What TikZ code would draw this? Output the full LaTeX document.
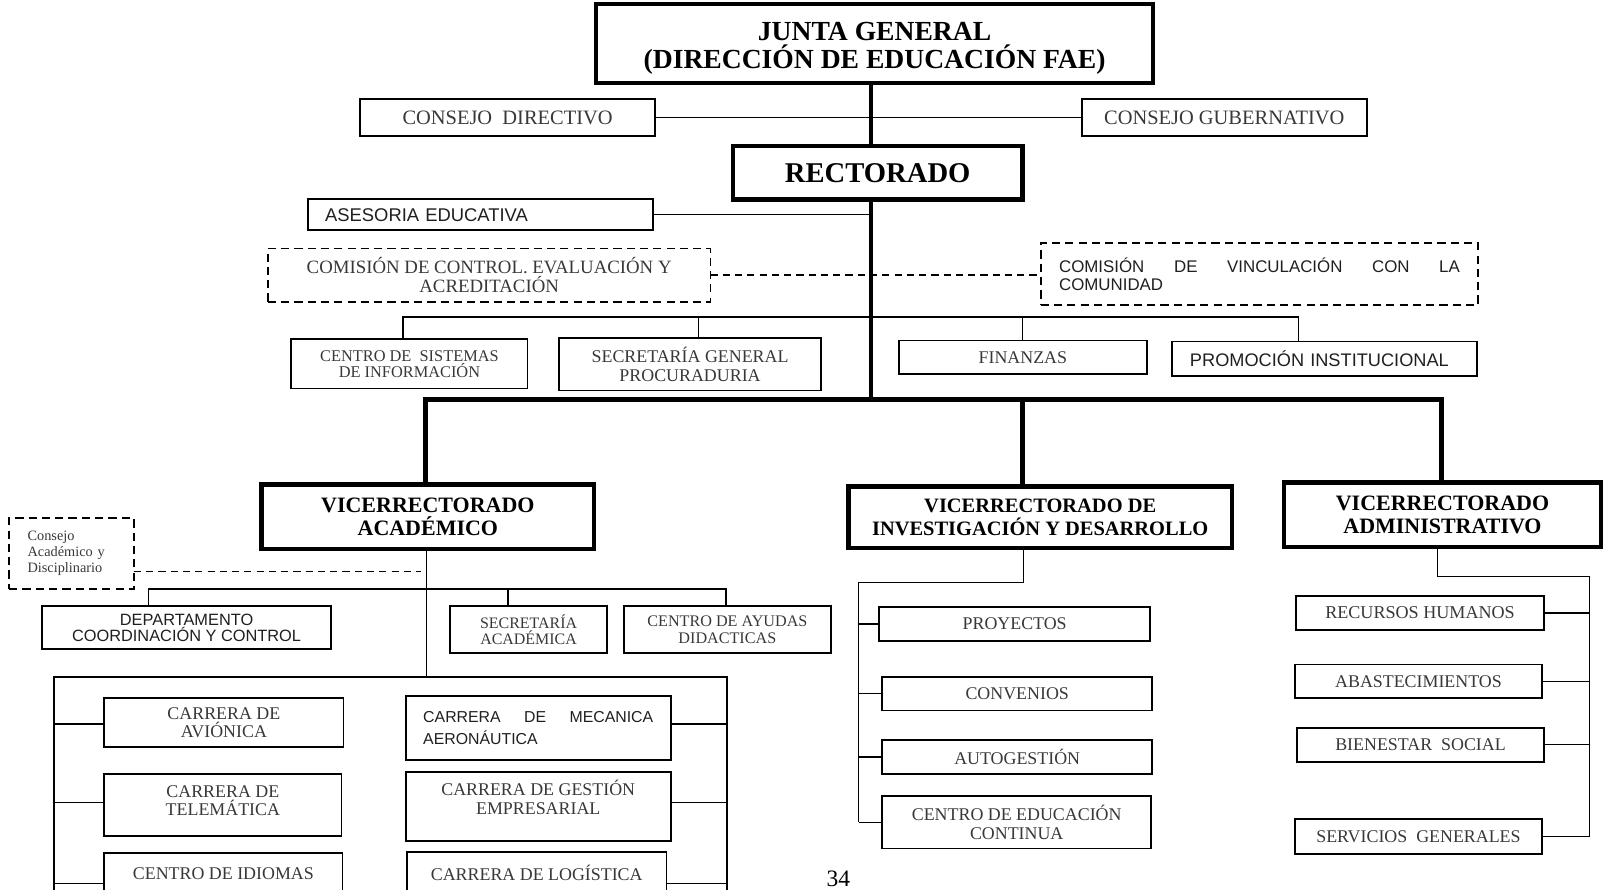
\documentclass[tikz,border=0pt]{standalone}
\usepackage{fontspec}
\setmainfont{Liberation Serif}
\setsansfont{Liberation Sans}
\newcommand\fsz[2]{\fontsize{#1}{#2}\selectfont}
\begin{document}
\begin{tikzpicture}[x=1pt,y=-1pt,
  box/.style={draw, line width=1.8pt, inner sep=0pt, outer sep=0pt, align=center, text=black!78},
  sansbox/.style={box, text=black!88},
  boldbox/.style={draw, line width=4.5pt, inner sep=0pt, outer sep=0pt, align=center},
  dashbox/.style={box, dash pattern=on 8pt off 5pt},
  link/.style={line width=1.4pt},
  trunk/.style={line width=4.5pt},
  dlink/.style={line width=1.4pt, dash pattern=on 7pt off 5pt},
]
\useasboundingbox (0,0) rectangle (1568,870);
\clip (0,0) rectangle (1568,870);

% ---- top levels
\node[boldbox, minimum width=545pt, minimum height=77pt] (junta) at (855.5,42.5) {};
\node[align=center, inner sep=0pt, font=\bfseries\fsz{27}{27}] (juntatxt) at (855.5,47.5)
  {JUNTA GENERAL\\(DIRECCIÓN DE EDUCACIÓN FAE)};
\node[box, minimum width=289pt, minimum height=36pt, font=\fsz{20}{20}] (cdir) at (496.5,115) {CONSEJO\ \ DIRECTIVO};
\node[box, minimum width=279pt, minimum height=36pt, font=\fsz{20}{20}] (cgub) at (1197.5,115) {CONSEJO GUBERNATIVO};
\node[boldbox, minimum width=283pt, minimum height=52pt, font=\bfseries\fsz{28}{28}] (rect) at (858.5,169) {RECTORADO};

\node[sansbox, text width=304pt, inner xsep=17pt, minimum height=30pt, align=left, font=\sffamily\fsz{18}{18}] (ases) at (470,210) {ASESORIA EDUCATIVA};
\node[dashbox, minimum width=433pt, minimum height=52pt, font=\fsz{18.4}{18}] (ccon) at (478.5,269)
  {COMISIÓN DE CONTROL. EVALUACIÓN Y\\ACREDITACIÓN};
\node[dashbox, text=black!88, text width=392pt, inner xsep=18pt, minimum height=60pt, align=justify, font=\sffamily\fsz{16.5}{18}] (cvin) at (1232,268)
  {COMISIÓN DE VINCULACIÓN CON LA\linebreak COMUNIDAD};

% ---- staff units under the rector
\node[box, minimum width=231pt, minimum height=48pt, font=\fsz{16}{15.5}] (cs) at (400.5,356) {CENTRO DE\ \ SISTEMAS\\DE INFORMACIÓN};
\node[box, minimum width=256pt, minimum height=51pt, font=\fsz{17.5}{18}] (sg) at (675,356.5) {SECRETARÍA GENERAL\\PROCURADURIA};
\node[box, minimum width=243pt, minimum height=33pt, font=\fsz{17.5}{18}] (fin) at (1000.5,349.5) {FINANZAS};
\node[sansbox, text width=263pt, inner xsep=18pt, minimum height=34pt, align=left, font=\sffamily\fsz{17.8}{18}] (prom) at (1295.5,351) {PROMOCIÓN INSTITUCIONAL};

% ---- vice-rectorates
\node[boldbox, minimum width=325pt, minimum height=63pt, font=\bfseries\fsz{21.5}{22}] (va) at (418.5,505.5) {VICERRECTORADO\\ACADÉMICO};
\node[boldbox, minimum width=375pt, minimum height=60pt, font=\bfseries\fsz{20}{22}] (vid) at (1017.5,506) {VICERRECTORADO DE\\INVESTIGACIÓN Y DESARROLLO};
\node[boldbox, minimum width=310pt, minimum height=63pt, font=\bfseries\fsz{21.5}{22}] (vadm) at (1411,503.5) {VICERRECTORADO\\ADMINISTRATIVO};

\node[dashbox, text width=86pt, inner xsep=18pt, minimum height=69pt, align=left, font=\fsz{14}{15.5}] (cad) at (70,541.5) {Consejo\\Académico y\\Disciplinario};

% ---- academic branch
\node[sansbox, minimum width=283pt, minimum height=42pt, font=\sffamily\fsz{16}{15.5}] (dep) at (182.5,614) {DEPARTAMENTO\\COORDINACIÓN Y CONTROL};
\node[box, minimum width=154pt, minimum height=46pt, font=\fsz{15.6}{16}] (sa) at (517,616) {SECRETARÍA\\ACADÉMICA};
\node[box, minimum width=203pt, minimum height=46pt, font=\fsz{15.8}{16}] (cay) at (711.5,616) {CENTRO DE AYUDAS\\DIDACTICAS};

\node[box, minimum width=234pt, minimum height=48pt, font=\fsz{17.5}{18}] (av) at (219,707) {CARRERA DE\\AVIÓNICA};
\node[box, minimum width=232pt, minimum height=61pt, font=\fsz{17.5}{18}] (tel) at (218,787.5) {CARRERA DE\\TELEMÁTICA\\[-9pt]\mbox{}};
\node[box, minimum width=233pt, minimum height=42pt, font=\fsz{17.5}{18}] (idi) at (218.5,855) {CENTRO DE IDIOMAS};
\node[sansbox, text width=225pt, inner xsep=17pt, minimum height=62pt, align=justify, font=\sffamily\fsz{15.5}{22}] (mec) at (526.5,712) {CARRERA DE MECANICA\linebreak AERONÁUTICA};
\node[box, minimum width=259pt, minimum height=68pt, font=\fsz{17.5}{18}] (ges) at (526.5,789) {CARRERA DE GESTIÓN\\EMPRESARIAL\\\mbox{}};
\node[box, minimum width=254pt, minimum height=42pt, font=\fsz{17.5}{18}] (log) at (525,854) {CARRERA DE LOGÍSTICA};

% ---- research branch
\node[box, minimum width=265pt, minimum height=33pt, font=\fsz{17.5}{18}] (pro) at (992.5,610.5) {PROYECTOS};
\node[box, minimum width=264pt, minimum height=33pt, font=\fsz{17.5}{18}] (conv) at (995,678.5) {CONVENIOS};
\node[box, minimum width=264pt, minimum height=33pt, font=\fsz{17.5}{18}] (auto) at (995,740.5) {AUTOGESTIÓN};
\node[box, minimum width=263pt, minimum height=51pt, font=\fsz{17.5}{18}] (ced) at (994.5,804.5) {CENTRO DE EDUCACIÓN\\CONTINUA};

% ---- administrative branch
\node[box, minimum width=242pt, minimum height=33pt, font=\fsz{17.7}{18}] (rh) at (1389,599.5) {RECURSOS HUMANOS};
\node[box, minimum width=241pt, minimum height=33pt, font=\fsz{17.5}{18}] (ab) at (1387.5,666.5) {ABASTECIMIENTOS};
\node[box, minimum width=241pt, minimum height=33pt, font=\fsz{17.5}{18}] (bs) at (1389.5,728.5) {BIENESTAR\ \ SOCIAL};
\node[box, minimum width=241pt, minimum height=34pt, font=\fsz{17.5}{18}] (sgen) at (1387.5,818) {SERVICIOS\ \ GENERALES};

\node[font=\fsz{23}{24}] (pg) at (820,860) {34};

% ---- main trunk
\coordinate (sp) at (852,0);
\coordinate (tb) at (852,391);
\coordinate (t1) at (416,391);
\coordinate (t2) at (1000,391);
\coordinate (t3) at (1410,391);
\draw[link] (cdir.east) -- (cgub.west);
\draw[link] (ases.east) -- (ases.east -| sp);
\draw[dlink] (ccon.east) -- (ccon.east -| cvin.west);
\coordinate (u1) at (394,310);
\coordinate (u2) at (683,310);
\coordinate (u3) at (1000,310);
\coordinate (u4) at (1270,310);
\draw[link] (u1 |- cs.north) -- (u1) -- (u4) -- (u4 |- prom.north);
\draw[link] (u2) -- (u2 |- sg.north);
\draw[link] (u3) -- (u3 |- fin.north);
\draw[trunk] (junta.south -| sp) -- (rect.north -| sp);
\draw[trunk] (rect.south -| sp) -- (tb);
\draw[trunk] (va.north -| t1) -- (t1) -- (t3) -- (vadm.north -| t3);
\draw[trunk] (t2) -- (vid.north -| t2);

% ---- academic connectors
\coordinate (a0) at (417,576);
\coordinate (a1) at (145,576);
\coordinate (a2) at (497,576);
\coordinate (a3) at (710,576);
\coordinate (a4) at (417,662);
\coordinate (k1) at (53,662);
\coordinate (k2) at (711,662);
\coordinate (cd) at (412,559);
\draw[dlink] (cd -| cad.east) -- (cd);
\draw[link] (va.south -| a0) -- (a4);
\draw[link] (a1 |- dep.north) -- (a1) -- (a3) -- (a3 |- cay.north);
\draw[link] (a2) -- (a2 |- sa.north);
\draw[link] (53,880) -- (k1) -- (k2) -- (711,880);
\coordinate (s1) at (53,708);
\coordinate (s2) at (53,785);
\coordinate (s3) at (53,864);
\coordinate (r1) at (711,708);
\coordinate (r2) at (711,785);
\coordinate (r3) at (711,864);
\draw[link] (s1) -- (s1 -| av.west);
\draw[link] (s2) -- (s2 -| tel.west);
\draw[link] (s3) -- (s3 -| idi.west);
\draw[link] (r1) -- (r1 -| mec.east);
\draw[link] (r2) -- (r2 -| ges.east);
\draw[link] (r3) -- (r3 -| log.east);

% ---- research connectors
\coordinate (v0) at (1001,570);
\coordinate (v1) at (840,570);
\draw[link] (vid.south -| v0) -- (v0) -- (v1) -- (v1 |- ced.west);
\draw[link] (v1 |- pro.west) -- (pro.west);
\draw[link] (v1 |- conv.west) -- (conv.west);
\draw[link] (v1 |- auto.west) -- (auto.west);
\draw[link] (v1 |- ced.west) -- (ced.west);

% ---- administrative connectors
\coordinate (w0) at (1406,564);
\coordinate (w1) at (1555,564);
\draw[link] (vadm.south -| w0) -- (w0) -- (w1) -- (w1 |- sgen.east);
\draw[link] (rh.east) -- (rh.east -| w1);
\draw[link] (ab.east) -- (ab.east -| w1);
\draw[link] (bs.east) -- (bs.east -| w1);
\draw[link] (sgen.east) -- (sgen.east -| w1);
\end{tikzpicture}
\end{document}
